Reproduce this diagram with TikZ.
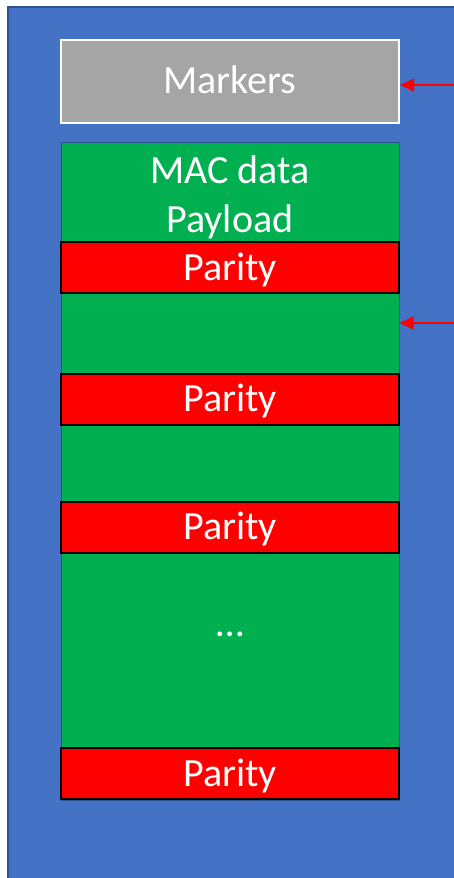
\documentclass[tikz,border=0pt]{standalone}
\usepackage{fontspec}
\setmainfont{Carlito}
\usetikzlibrary{arrows.meta}
\definecolor{bgblue}{HTML}{4472C4}
\definecolor{edgeblue}{HTML}{2F528F}
\definecolor{markgray}{HTML}{A5A5A5}
\definecolor{paygreen}{HTML}{00B050}
\definecolor{parred}{HTML}{FF0000}
\tikzset{
  bigfont/.style={font=\fontsize{40}{49}\selectfont, text=white},
  markbox/.style={bigfont, fill=markgray, draw=white, line width=2pt,
    minimum width=338pt, minimum height=83pt, inner sep=0pt,
    text height=24pt, text depth=1pt},
  greenbox/.style={fill=paygreen, draw=edgeblue, line width=1pt,
    minimum width=338pt, minimum height=658pt, inner sep=0pt},
  paritybox/.style={bigfont, fill=parred, draw=black, line width=2pt,
    minimum width=338pt, minimum height=51pt, inner sep=0pt,
    text height=25pt, text depth=0pt},
  redarrow/.style={draw=parred, line width=1.6pt,
    -{Triangle[length=14pt,width=13pt]}}
}
\begin{document}
\begin{tikzpicture}[x=1pt,y=-1pt]
  \useasboundingbox (0,0) rectangle (454,878);
  \fill[white] (0,0) rectangle (454,878);
  \draw[fill=bgblue, draw=edgeblue, line width=2pt] (8,7) rectangle (480,900);
  \node[markbox] (markers) at (230,81.5) {Markers};
  \node[greenbox] (payloadbox) at (230,471) {};
  \node[bigfont, align=center, inner sep=0pt] (payload) at (230,197) {MAC data\\Payload};
  \node[paritybox] (p1) at (230,267.5) {Parity};
  \node[paritybox] (p2) at (230,399) {Parity};
  \node[paritybox] (p3) at (230,527) {Parity};
  \node[bigfont, anchor=base, inner sep=0pt] (dots) at (230,636) {…};
  \node[paritybox] (p4) at (230,773.5) {Parity};
  \coordinate (a1) at (454,85);
  \coordinate (a2) at (454,323);
  \draw[redarrow] (a1) -- (markers.east |- a1);
  \draw[redarrow] (a2) -- (payloadbox.east |- a2);
\end{tikzpicture}
\end{document}
